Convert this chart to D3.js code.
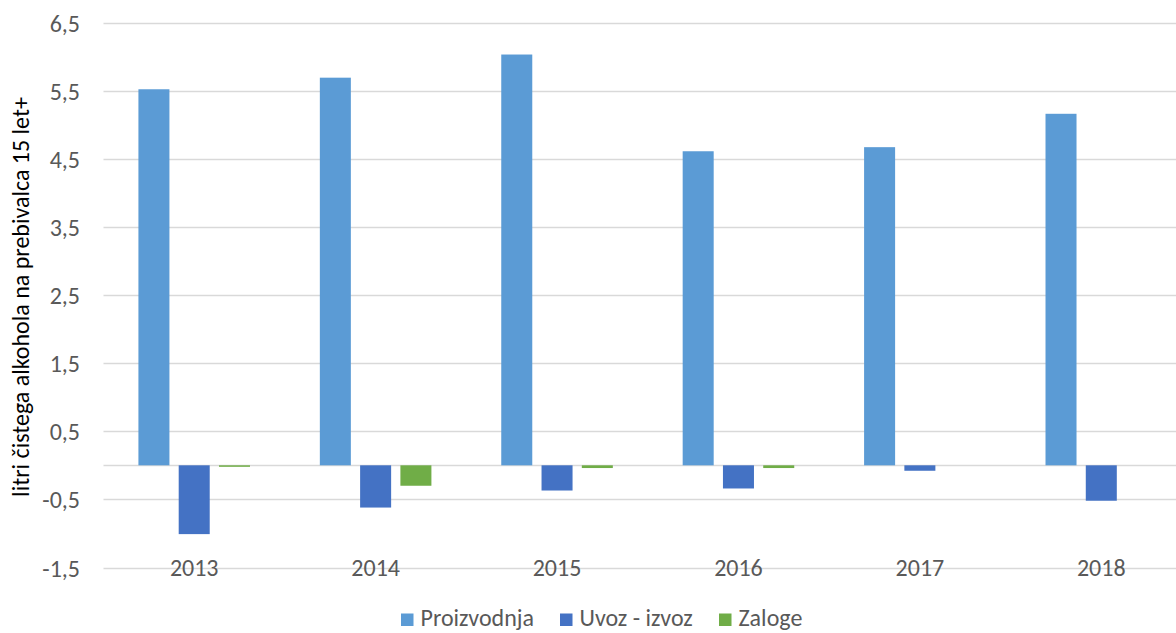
<!DOCTYPE html>
<html>
<head>
    <meta charset="utf-8">
    <script src="https://d3js.org/d3.v7.min.js"></script>
    <style>
        body { margin: 0; background: #fff; }
        svg { display: block; font-family: Carlito, "Open Sans", sans-serif; }
    </style>
</head>
<body>
    <svg></svg>
    <script>
        const years = ["2013", "2014", "2015", "2016", "2017", "2018"];
        const seriesNames = ["Proizvodnja", "Uvoz - izvoz", "Zaloge"];
        const proizvodnja = [5.52, 5.69, 6.03, 4.61, 4.67, 5.16];
        const uvozIzvoz = [-1.01, -0.62, -0.37, -0.34, -0.08, -0.52];
        const zaloge = [-0.02, -0.30, -0.04, -0.04, 0, 0];
        const colors = ["#5B9BD5", "#4472C4", "#70AD47"];
        const yTicks = [-1.5, -0.5, 0.5, 1.5, 2.5, 3.5, 4.5, 5.5, 6.5];

        const width = 1176, height = 633;
        const plotLeft = 103.5, plotRight = 1192, plotTop = 22.5, plotBottom = 567.5;
        const fontSize = 24;
        const values = [proizvodnja, uvozIzvoz, zaloge];

        const svg = d3.select("svg").attr("width", width).attr("height", height);

        const y = d3.scaleLinear().domain([-1.5, 6.5]).range([plotBottom, plotTop]);
        const x0 = d3.scaleBand().domain(years).range([plotLeft, plotRight])
            .paddingInner(0.385).paddingOuter(0.1925);
        const x1 = d3.scaleBand().domain(seriesNames).range([0, x0.bandwidth()])
            .paddingInner(0.23);

        const fmt = v => d3.format(".1f")(v).replace(".", ",").replace("−", "-");

        // grid
        svg.append("g").selectAll("line")
            .data(yTicks.concat([0]))
            .join("line")
            .attr("x1", plotLeft).attr("x2", plotRight)
            .attr("y1", d => Math.round(y(d)) + 0.5)
            .attr("y2", d => Math.round(y(d)) + 0.5)
            .attr("stroke", "#d9d9d9").attr("stroke-width", 1.5);

        // y labels
        svg.append("g").selectAll("text")
            .data(yTicks)
            .join("text")
            .attr("x", 80).attr("y", d => y(d) + 9)
            .attr("text-anchor", "end")
            .attr("font-size", fontSize).attr("fill", "#595959")
            .text(fmt);

        // y title
        svg.append("text")
            .attr("transform", `translate(29,297) rotate(-90)`)
            .attr("text-anchor", "middle")
            .attr("font-size", fontSize).attr("fill", "#000")
            .text("litri čistega alkohola na prebivalca 15 let+");

        // bars
        seriesNames.forEach((s, i) => {
            svg.append("g").selectAll("rect")
                .data(years.map((yr, j) => ({ yr, v: values[i][j] })).filter(d => d.v !== 0))
                .join("rect")
                .attr("x", d => x0(d.yr) + x1(s))
                .attr("width", x1.bandwidth())
                .attr("y", d => y(Math.max(0, d.v)))
                .attr("height", d => Math.max(1.5, Math.abs(y(d.v) - y(0))))
                .attr("fill", colors[i]);
        });

        // x labels
        svg.append("g").selectAll("text")
            .data(years)
            .join("text")
            .attr("x", d => x0(d) + x0.bandwidth() / 2)
            .attr("y", 575.5)
            .attr("text-anchor", "middle")
            .attr("font-size", fontSize).attr("fill", "#595959")
            .text(d => d);

        // legend
        const legendX = [401, 560, 719];
        const lg = svg.append("g").selectAll("g")
            .data(seriesNames)
            .join("g")
            .attr("transform", (d, i) => `translate(${legendX[i]},613.5)`);
        lg.append("rect").attr("width", 12.5).attr("height", 12.5)
            .attr("fill", (d, i) => colors[i]);
        lg.append("text").attr("x", 19.5).attr("y", 12.5)
            .attr("font-size", fontSize).attr("fill", "#595959")
            .text(d => d);
    </script>
</body>
</html>
